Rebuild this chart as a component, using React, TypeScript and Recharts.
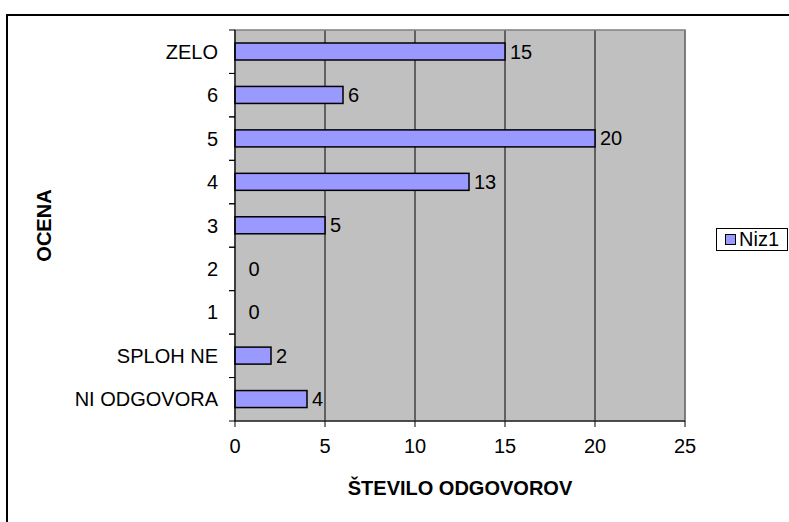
import { BarChart, Bar, XAxis, YAxis, CartesianGrid, LabelList, Legend, ReferenceArea } from "recharts";

const categories = ["ZELO", "6", "5", "4", "3", "2", "1", "SPLOH NE", "NI ODGOVORA"];
const values = [15, 6, 20, 13, 5, 0, 0, 2, 4];
const xTicks = [0, 5, 10, 15, 20, 25];
const seriesName = "Niz1";

const data = categories.map((name, i) => ({ name, value: values[i] }));

const FONT = "Arial, 'Liberation Sans', sans-serif";
const FS = 20;
const PLOT_TOP = 30;
const PLOT_BOTTOM = 421;
const BAND = (PLOT_BOTTOM - PLOT_TOP) / categories.length;

const CategoryTick = (props: any) => {
  const { x, y, payload } = props;
  return (
    <g>
      <line x1={x - 6} x2={x} y1={y - BAND / 2} y2={y - BAND / 2} stroke="#000" />
      <line x1={x - 6} x2={x} y1={y + BAND / 2} y2={y + BAND / 2} stroke="#000" />
      <text x={x - 17} y={y} textAnchor="end" dominantBaseline="central" fontSize={FS} fontFamily={FONT} fill="#000">
        {payload.value}
      </text>
    </g>
  );
};

// zero-length bars get no rectangle, only their label
const BarShape = (props: any) => {
  const { x, y, width, height, value } = props;
  if (!value) return null;
  return <rect x={x} y={y} width={width} height={height} fill="#9999FF" stroke="#000" strokeWidth={1.5} />;
};

const ValueLabel = (props: any) => {
  const { x, y, width, height, value } = props;
  const gap = value === 0 ? 13 : 5;
  return (
    <text
      x={Number(x) + Number(width || 0) + gap}
      y={Number(y) + Number(height) / 2}
      dominantBaseline="central"
      fontSize={FS}
      fontFamily={FONT}
      fill="#000"
    >
      {value}
    </text>
  );
};

const LegendBox = () => (
  <div
    style={{
      width: 72,
      height: 23,
      border: "1px solid #000",
      background: "#fff",
      display: "flex",
      alignItems: "center",
      fontFamily: FONT,
      fontSize: FS,
      color: "#000",
      boxSizing: "border-box",
    }}
  >
    <span style={{ width: 9, height: 9, background: "#9999FF", border: "1px solid #000", marginLeft: 8, marginRight: 3 }} />
    {seriesName}
  </div>
);

export default function App() {
  return (
    <div style={{ position: "absolute", left: 0, top: 0, width: 789, height: 522, overflow: "hidden", background: "#fff" }}>
      <div style={{ position: "absolute", left: 6, top: 14, width: 800, height: 520, border: "2px solid #000" }} />
      <div style={{ position: "absolute", left: 0, top: 0 }}>
        <BarChart
          width={789}
          height={522}
          data={data}
          layout="vertical"
          margin={{ top: PLOT_TOP, right: 104, bottom: 0, left: 0 }}
          barCategoryGap="0%"
        >
          <CartesianGrid horizontal={false} vertical stroke="#000" fill="#C0C0C0" />
          <ReferenceArea x1={0} x2={25} fill="none" stroke="#808080" strokeWidth={1.5} ifOverflow="visible" />
          <XAxis
            type="number"
            domain={[0, 25]}
            ticks={xTicks}
            interval={0}
            height={101}
            axisLine={{ stroke: "#000" }}
            tickLine={{ stroke: "#000" }}
            tickSize={6}
            tickMargin={12}
            tick={{ fontSize: FS, fontFamily: FONT, fill: "#000" }}
            label={{
              value: "ŠTEVILO ODGOVOROV",
              position: "insideBottom",
              offset: 27,
              fontSize: FS,
              fontWeight: "bold",
              fontFamily: FONT,
              fill: "#000",
            }}
          />
          <YAxis
            type="category"
            dataKey="name"
            width={235}
            interval={0}
            axisLine={{ stroke: "#000" }}
            tickLine={false}
            tickSize={0}
            tickMargin={0}
            tick={<CategoryTick />}
            label={{
              content: ({ viewBox }: any) => {
                const cx = 44;
                const cy = viewBox.y + viewBox.height / 2;
                return (
                  <text
                    x={cx}
                    y={cy}
                    transform={`rotate(-90, ${cx}, ${cy})`}
                    textAnchor="middle"
                    dominantBaseline="central"
                    fontSize={FS}
                    fontWeight="bold"
                    fontFamily={FONT}
                    fill="#000"
                  >
                    OCENA
                  </text>
                );
              },
            }}
          />
          <Legend
            content={<LegendBox />}
            wrapperStyle={{ position: "absolute", left: 716, top: 228, width: 0, height: 0, overflow: "visible" }}
          />
          <Bar
            dataKey="value"
            name={seriesName}
            fill="#9999FF"
            stroke="#000"
            strokeWidth={1.5}
            barSize={17}
            minPointSize={0.5}
            shape={<BarShape />}
            isAnimationActive={false}
          >
            <LabelList dataKey="value" content={<ValueLabel />} />
          </Bar>
        </BarChart>
      </div>
    </div>
  );
}
